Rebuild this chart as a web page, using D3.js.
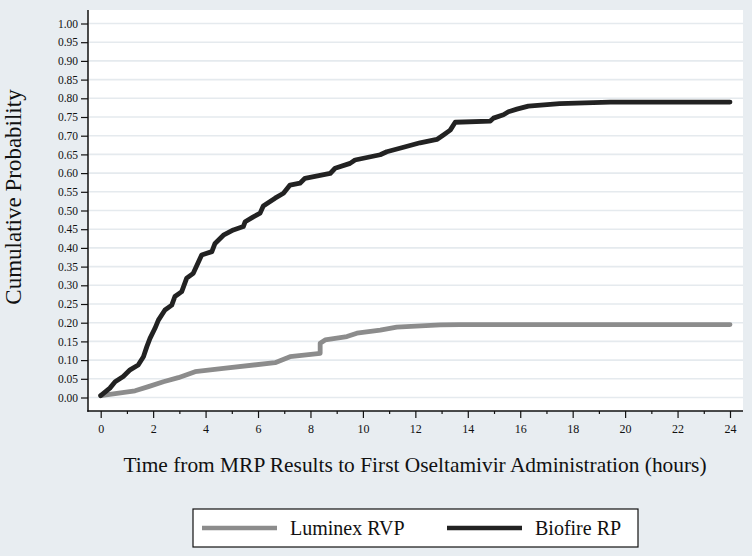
<!DOCTYPE html>
<html>
<head>
<meta charset="utf-8">
<script src="https://cdn.jsdelivr.net/npm/d3@7"></script>
<style>
  html, body { margin: 0; padding: 0; background: #e8edf1; }
  svg { display: block; }
  text { font-family: "Liberation Serif", "Times New Roman", serif; fill: #111; }
</style>
</head>
<body>
<svg id="chart" width="752" height="556"></svg>
<script>
// ---- Data ----
const seriesNames = ["Luminex RVP", "Biofire RP"];
const luminexHours = [0, 1.31, 1.82, 2.39, 2.96, 3.60, 4.68, 6.65, 7.22, 8.37, 8.37, 8.56, 9.39, 9.77, 10.66, 11.29, 12.95, 13.7, 24];
const luminexProb  = [0.005, 0.018, 0.029, 0.042, 0.053, 0.069, 0.078, 0.093, 0.109, 0.118, 0.145, 0.154, 0.163, 0.172, 0.180, 0.188, 0.194, 0.195, 0.195];
const biofireHours = [0, 0.35, 0.55, 0.86, 1.12, 1.43, 1.63, 1.76, 1.88, 2.07, 2.20, 2.45, 2.71, 2.83, 3.09, 3.28, 3.53, 3.85, 4.24, 4.36, 4.68, 5.06, 5.44, 5.51, 5.82, 6.08, 6.20, 6.65, 6.97, 7.22, 7.60, 7.79, 8.75, 8.94, 9.51, 9.70, 10.66, 10.91, 11.55, 12.18, 12.82, 13.07, 13.33, 13.52, 14.86, 14.98, 15.36, 15.55, 15.87, 16.31, 17.5, 19.43, 24];
const biofireProb  = [0.005, 0.025, 0.042, 0.056, 0.074, 0.087, 0.109, 0.136, 0.158, 0.185, 0.207, 0.234, 0.247, 0.270, 0.283, 0.319, 0.332, 0.381, 0.390, 0.412, 0.434, 0.448, 0.457, 0.470, 0.483, 0.493, 0.512, 0.533, 0.546, 0.568, 0.573, 0.586, 0.599, 0.613, 0.626, 0.635, 0.649, 0.657, 0.669, 0.681, 0.690, 0.702, 0.715, 0.736, 0.739, 0.747, 0.756, 0.764, 0.771, 0.779, 0.786, 0.790, 0.790];
const yTickValues = d3.range(0, 21).map(i => i * 0.05);
const xMajorTicks = d3.range(0, 25, 2);
const xMinorTicks = d3.range(1, 24, 2);
const xTitle = "Time from MRP Results to First Oseltamivir Administration (hours)";
const yTitle = "Cumulative Probability";

// ---- Layout ----
const svg = d3.select("#chart");
const plot = { left: 88, right: 743, top: 10, bottom: 411 };
const x = d3.scaleLinear().domain([0, 24]).range([100.7, 730]);
const y = d3.scaleLinear().domain([0, 1]).range([397.5, 23.5]);

// plot background
svg.append("rect")
  .attr("x", plot.left).attr("y", plot.top)
  .attr("width", plot.right - plot.left).attr("height", plot.bottom - plot.top)
  .attr("fill", "#ffffff");

// grid lines
svg.append("g").selectAll("line").data(yTickValues).join("line")
  .attr("x1", plot.left + 1).attr("x2", plot.right)
  .attr("y1", d => y(d)).attr("y2", d => y(d))
  .attr("stroke", "#e5eaee").attr("stroke-width", 1.6);

// lines
const line = d3.line().x(d => x(d[0])).y(d => y(d[1])).curve(d3.curveLinear);
const lum = luminexHours.map((h, i) => [h, luminexProb[i]]);
const bio = biofireHours.map((h, i) => [h, biofireProb[i]]);
const colors = ["#8c8c8c", "#222222"];

svg.append("path").datum(lum).attr("d", line)
  .attr("fill", "none").attr("stroke", colors[0]).attr("stroke-width", 4.8)
  .attr("stroke-linejoin", "round").attr("stroke-linecap", "round");
svg.append("path").datum(bio).attr("d", line)
  .attr("fill", "none").attr("stroke", colors[1]).attr("stroke-width", 4.8)
  .attr("stroke-linejoin", "round").attr("stroke-linecap", "round");

// y axis
const yAxis = d3.axisLeft(y).tickValues(yTickValues).tickFormat(d3.format(".2f")).tickSize(7).tickPadding(3);
const gy = svg.append("g").attr("transform", `translate(${plot.left},0)`).call(yAxis);
gy.select(".domain").remove();
gy.selectAll(".tick line").attr("stroke", "#111").attr("stroke-width", 1.2);
gy.selectAll(".tick text").style("font-family", '"Liberation Serif", serif').style("font-size", "11.5px").attr("fill", "#1a1a1a");
svg.append("line").attr("x1", plot.left).attr("x2", plot.left).attr("y1", plot.top).attr("y2", plot.bottom + 0.75)
  .attr("stroke", "#111").attr("stroke-width", 1.5);

// x axis
const xAxis = d3.axisBottom(x).tickValues(xMajorTicks).tickFormat(d3.format("d")).tickSize(7).tickPadding(6);
const gx = svg.append("g").attr("transform", `translate(0,${plot.bottom})`).call(xAxis);
gx.select(".domain").remove();
gx.selectAll(".tick line").attr("stroke", "#111").attr("stroke-width", 1.2);
gx.selectAll(".tick text").style("font-family", '"Liberation Serif", serif').style("font-size", "12px").attr("fill", "#1a1a1a");
const xMinor = d3.axisBottom(x).tickValues(xMinorTicks).tickFormat("").tickSize(3);
const gxm = svg.append("g").attr("transform", `translate(0,${plot.bottom})`).call(xMinor);
gxm.select(".domain").remove();
gxm.selectAll(".tick line").attr("stroke", "#111").attr("stroke-width", 1.2);
svg.append("line").attr("x1", plot.left - 0.75).attr("x2", plot.right).attr("y1", plot.bottom).attr("y2", plot.bottom)
  .attr("stroke", "#111").attr("stroke-width", 1.5);

// titles
svg.append("text").attr("x", 415).attr("y", 472).attr("text-anchor", "middle")
  .style("font-size", "21.4px").text(xTitle);
svg.append("text").attr("transform", "translate(21,197) rotate(-90)").attr("text-anchor", "middle")
  .style("font-size", "23px").text(yTitle);

// legend
const lg = svg.append("g");
lg.append("rect").attr("x", 193).attr("y", 509).attr("width", 445).attr("height", 38)
  .attr("fill", "#ffffff").attr("stroke", "#111").attr("stroke-width", 1.2);
const legendX = [202, 447];
seriesNames.forEach((name, i) => {
  lg.append("line").attr("x1", legendX[i]).attr("x2", legendX[i] + 75).attr("y1", 528).attr("y2", 528)
    .attr("stroke", colors[i]).attr("stroke-width", 4.5);
  lg.append("text").attr("x", legendX[i] + 88).attr("y", 535).style("font-size", "20px").text(name);
});
</script>
</body>
</html>
